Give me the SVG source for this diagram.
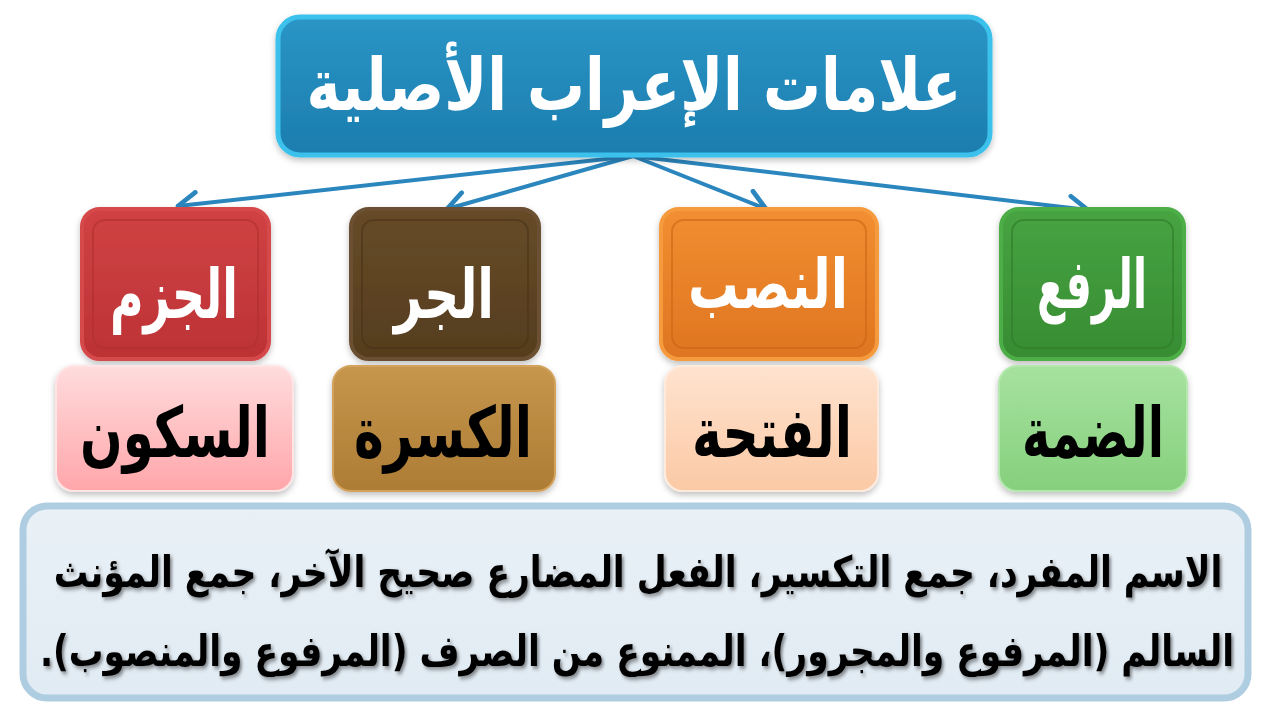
<svg xmlns="http://www.w3.org/2000/svg" width="1280" height="720" viewBox="0 0 1280 720">
<defs>
<style>
.ar{font-family:"DejaVu Sans","Noto Sans",sans-serif;font-weight:bold}
.w{fill:#ffffff}
.k{fill:#000000}
.conn{stroke:#2B86BE;stroke-width:4;fill:none;stroke-linecap:round}
</style>
<marker id="ah" viewBox="0 0 12 12" refX="10" refY="6" markerWidth="7" markerHeight="7" orient="auto" markerUnits="strokeWidth">
<polyline points="2,1 10,6 2,11" fill="none" stroke="#2B86BE" stroke-width="2" stroke-linecap="round" stroke-linejoin="round"/>
</marker>
<linearGradient id="gBlue" x1="0" y1="0" x2="0" y2="1"><stop offset="0" stop-color="#2A95C6"/><stop offset="1" stop-color="#1B7DAE"/></linearGradient>
<linearGradient id="gRed" x1="0" y1="0" x2="0" y2="1"><stop offset="0" stop-color="#D04244"/><stop offset="1" stop-color="#BC3235"/></linearGradient>
<linearGradient id="gBrown" x1="0" y1="0" x2="0" y2="1"><stop offset="0" stop-color="#664B28"/><stop offset="1" stop-color="#553D1E"/></linearGradient>
<linearGradient id="gOrange" x1="0" y1="0" x2="0" y2="1"><stop offset="0" stop-color="#F28E31"/><stop offset="1" stop-color="#DE7520"/></linearGradient>
<linearGradient id="gGreen" x1="0" y1="0" x2="0" y2="1"><stop offset="0" stop-color="#47A442"/><stop offset="1" stop-color="#378C32"/></linearGradient>
<linearGradient id="gPink" x1="0" y1="0" x2="0" y2="1"><stop offset="0" stop-color="#FFDCDD"/><stop offset="1" stop-color="#FFA6AA"/></linearGradient>
<linearGradient id="gTan" x1="0" y1="0" x2="0" y2="1"><stop offset="0" stop-color="#C6964D"/><stop offset="1" stop-color="#AD7C35"/></linearGradient>
<linearGradient id="gPeach" x1="0" y1="0" x2="0" y2="1"><stop offset="0" stop-color="#FFE3CF"/><stop offset="1" stop-color="#FBC9A5"/></linearGradient>
<linearGradient id="gLGreen" x1="0" y1="0" x2="0" y2="1"><stop offset="0" stop-color="#A6E29F"/><stop offset="1" stop-color="#86D07D"/></linearGradient>
<linearGradient id="gPanel" x1="0" y1="0" x2="0" y2="1"><stop offset="0" stop-color="#E9F1F7"/><stop offset="1" stop-color="#E1EBF3"/></linearGradient>
<filter id="sh" x="-10%" y="-10%" width="120%" height="130%"><feDropShadow dx="0" dy="3" stdDeviation="3" flood-color="#000" flood-opacity="0.25"/></filter>
<filter id="tsh" x="-10%" y="-60%" width="120%" height="220%"><feDropShadow dx="2" dy="2" stdDeviation="1.5" flood-color="#000" flood-opacity="0.45"/></filter>
</defs>
<rect width="1280" height="720" fill="#ffffff"/>

<g id="connectors">
<line class="conn" x1="633" y1="156" x2="178" y2="206" marker-end="url(#ah)"/>
<line class="conn" x1="633" y1="156" x2="447" y2="209" marker-end="url(#ah)"/>
<line class="conn" x1="633" y1="156" x2="766" y2="209" marker-end="url(#ah)"/>
<line class="conn" x1="633" y1="156" x2="1088" y2="210" marker-end="url(#ah)"/>
</g>

<g id="title">
<rect x="278" y="17" width="712" height="138" rx="22" fill="url(#gBlue)" stroke="#3BC1EC" stroke-width="5" filter="url(#sh)"/>
<text class="ar w" x="634" y="110" font-size="72" text-anchor="middle" direction="rtl" textLength="655" lengthAdjust="spacingAndGlyphs">علامات الإعراب الأصلية</text>
</g>

<g id="jazm">
<rect x="82" y="209" width="187" height="150" rx="18" fill="url(#gRed)" stroke="#D6484B" stroke-width="4" filter="url(#sh)"/>
<rect x="93" y="220" width="165" height="128" rx="12" fill="none" stroke="#B02E31" stroke-width="2" opacity="0.6"/>
<text class="ar w" x="174" y="318" font-size="68" text-anchor="middle" direction="rtl" textLength="128" lengthAdjust="spacingAndGlyphs">الجزم</text>
</g>

<g id="jarr">
<rect x="351" y="209" width="188" height="150" rx="18" fill="url(#gBrown)" stroke="#6B5030" stroke-width="4" filter="url(#sh)"/>
<rect x="362" y="220" width="166" height="128" rx="12" fill="none" stroke="#4A3418" stroke-width="2" opacity="0.6"/>
<text class="ar w" x="444" y="318" font-size="68" text-anchor="middle" direction="rtl" textLength="100" lengthAdjust="spacingAndGlyphs">الجر</text>
</g>

<g id="nasb">
<rect x="661" y="209" width="216" height="150" rx="18" fill="url(#gOrange)" stroke="#F59A3C" stroke-width="4" filter="url(#sh)"/>
<rect x="672" y="220" width="194" height="128" rx="12" fill="none" stroke="#C96616" stroke-width="2" opacity="0.6"/>
<text class="ar w" x="768" y="308" font-size="68" text-anchor="middle" direction="rtl" textLength="160" lengthAdjust="spacingAndGlyphs">النصب</text>
</g>

<g id="raf">
<rect x="1001" y="209" width="183" height="150" rx="18" fill="url(#gGreen)" stroke="#4DAE47" stroke-width="4" filter="url(#sh)"/>
<rect x="1012" y="220" width="161" height="128" rx="12" fill="none" stroke="#2E7A2A" stroke-width="2" opacity="0.6"/>
<text class="ar w" x="1092" y="308" font-size="68" text-anchor="middle" direction="rtl" textLength="110" lengthAdjust="spacingAndGlyphs">الرفع</text>
</g>

<g id="sukun">
<rect x="56" y="366" width="237" height="125" rx="18" fill="url(#gPink)" stroke="#FFE4E5" stroke-width="2" filter="url(#sh)"/>
<text class="ar k" x="175" y="457" font-size="70" text-anchor="middle" direction="rtl" textLength="190" lengthAdjust="spacingAndGlyphs">السكون</text>
</g>

<g id="kasra">
<rect x="333" y="366" width="222" height="125" rx="18" fill="url(#gTan)" stroke="#D3A25C" stroke-width="2" filter="url(#sh)"/>
<text class="ar k" x="443" y="457" font-size="70" text-anchor="middle" direction="rtl" textLength="178" lengthAdjust="spacingAndGlyphs">الكسرة</text>
</g>

<g id="fatha">
<rect x="665" y="366" width="213" height="125" rx="18" fill="url(#gPeach)" stroke="#FFEADB" stroke-width="2" filter="url(#sh)"/>
<text class="ar k" x="772" y="457" font-size="70" text-anchor="middle" direction="rtl" textLength="160" lengthAdjust="spacingAndGlyphs">الفتحة</text>
</g>

<g id="damma">
<rect x="999" y="366" width="188" height="125" rx="18" fill="url(#gLGreen)" stroke="#B4E8AE" stroke-width="2" filter="url(#sh)"/>
<text class="ar k" x="1093" y="457" font-size="70" text-anchor="middle" direction="rtl" textLength="142" lengthAdjust="spacingAndGlyphs">الضمة</text>
</g>

<g id="note">
<rect x="23" y="506" width="1225" height="192" rx="24" fill="url(#gPanel)" stroke="#AFCDE0" stroke-width="7"/>
<text class="ar k" x="0" y="0" transform="translate(638,587) scale(1,1.25)" font-size="34.5" text-anchor="middle" direction="rtl" filter="url(#tsh)">الاسم المفرد، جمع التكسير، الفعل المضارع صحيح الآخر، جمع المؤنث</text>
<text class="ar k" x="0" y="0" transform="translate(637,666) scale(1,1.25)" font-size="34.5" text-anchor="middle" direction="rtl" filter="url(#tsh)">السالم (المرفوع والمجرور)، الممنوع من الصرف (المرفوع والمنصوب).</text>
</g>
</svg>
